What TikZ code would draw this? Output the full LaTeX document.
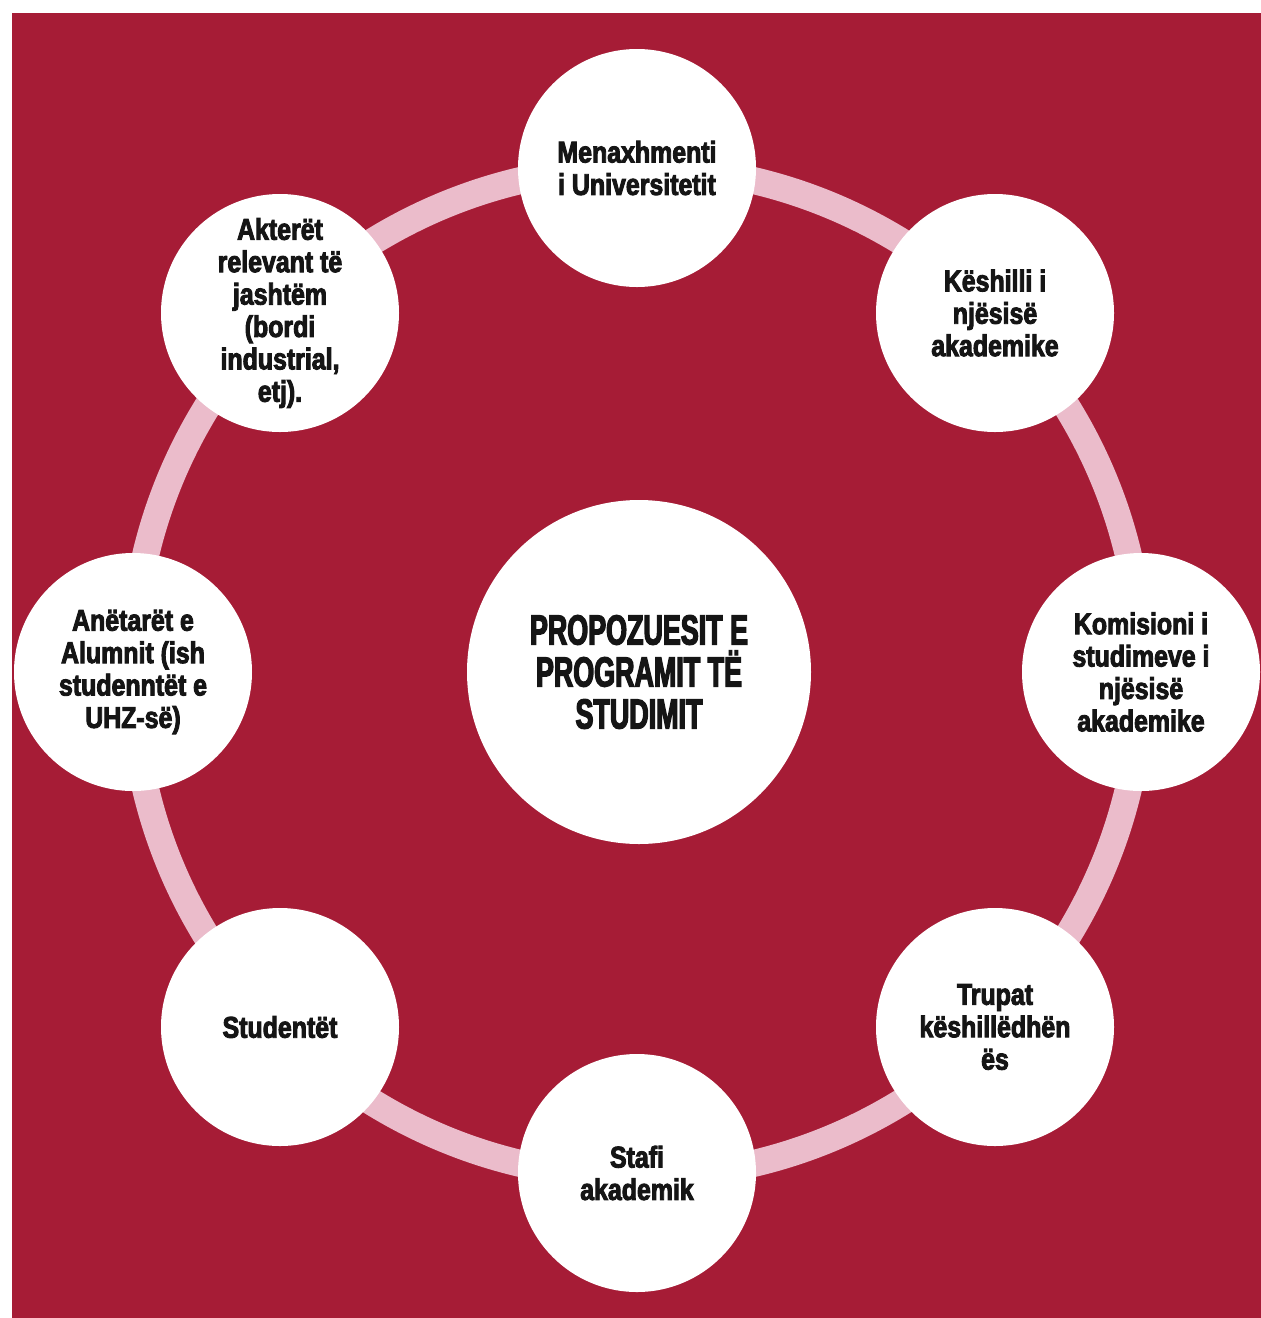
\documentclass[tikz,border=0pt]{standalone}
\usepackage{fontspec}
\newfontfamily\outerfont[FakeStretch=0.83,FakeBold=3]{Liberation Sans Bold}
\newfontfamily\centerfont[FakeStretch=0.64,FakeBold=3]{Liberation Sans Bold}
\definecolor{bgred}{HTML}{A61C36}
\definecolor{ringpink}{HTML}{EBBCCB}
\definecolor{txt}{HTML}{151515}
\tikzset{
  outer/.style={circle, fill=white, minimum size=119pt, inner sep=0pt, align=center, text=txt,
    font=\outerfont\fontsize{15pt}{16.2pt}\selectfont},
  hub/.style={circle, fill=white, minimum size=172pt, inner sep=0pt, align=center, text=txt,
    font=\centerfont\fontsize{21pt}{21pt}\selectfont},
  ring/.style={draw=ringpink, line width=13.5pt}
}
\begin{document}
\begin{tikzpicture}[x=0.5pt,y=-0.5pt]
\useasboundingbox (0,0) rectangle (1261,1318);
\fill[white] (0,0) rectangle (1261,1318);
\fill[bgred] (12,13) rectangle (1275,1330);
\coordinate (ctr) at (637,672);
\draw[ring] (ctr) circle (505);
\node[hub] (hubnode) at (639,672) {PROPOZUESIT E\\PROGRAMIT TË\\STUDIMIT};
\node[outer] (n1) at (637,168) {Menaxhmenti\\i Universitetit};
\node[outer] (n2) at (995,313) {Këshilli i\\njësisë\\akademike};
\node[outer] (n3) at (1141,672) {Komisioni i\\studimeve i\\njësisë\\akademike};
\node[outer] (n4) at (995,1027) {Trupat\\këshillëdhën\\ës};
\node[outer] (n5) at (637,1173) {Stafi\\akademik};
\node[outer] (n6) at (280,1027) {Studentët};
\node[outer] (n7) at (133,672) {Anëtarët e\\Alumnit (ish\\studenntët e\\UHZ-së)};
\node[outer] (n8) at (280,313) {Akterët\\relevant të\\jashtëm\\(bordi\\industrial,\\etj).};
\end{tikzpicture}
\end{document}
